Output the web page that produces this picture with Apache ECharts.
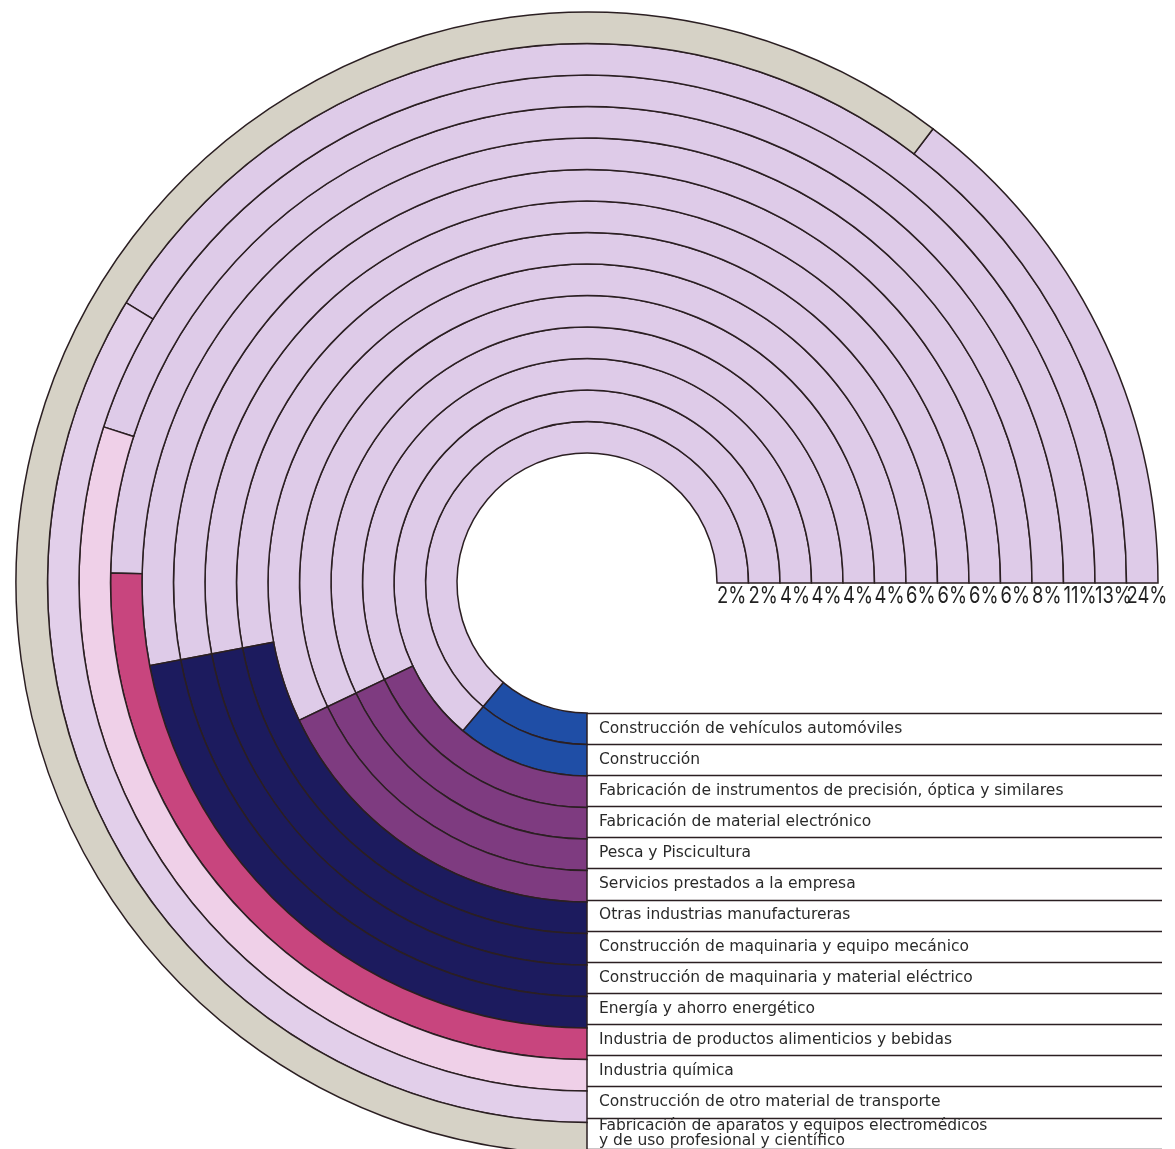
<!DOCTYPE html>
<html>
<head>
<meta charset="utf-8">
<script src="https://cdn.jsdelivr.net/npm/echarts@6/dist/echarts.min.js"></script>
<style>
html,body{margin:0;padding:0;background:#fff;}
#chart{width:1175px;height:1149px;}
</style>
</head>
<body>
<div id="chart"></div>
<script>
// Rings, innermost first
const categories = [
  'Construcción de vehículos automóviles',
  'Construcción',
  'Fabricación de instrumentos de precisión, óptica y similares',
  'Fabricación de material electrónico',
  'Pesca y Piscicultura',
  'Servicios prestados a la empresa',
  'Otras industrias manufactureras',
  'Construcción de maquinaria y equipo mecánico',
  'Construcción de maquinaria y material eléctrico',
  'Energía y ahorro energético',
  'Industria de productos alimenticios y bebidas',
  'Industria química',
  'Construcción de otro material de transporte',
  'Fabricación de aparatos y equipos electromédicos\ny de uso profesional y científico'
];
const percentLabels = ['2%','2%','4%','4%','4%','4%','6%','6%','6%','6%','8%','11%','13%','24%'];
// angle (degrees, counter-clockwise from 3 o'clock) where each ring's coloured segment begins
const highlightStartDeg = [230, 230, 205.5, 205.5, 205.5, 205.5, 190.7, 190.7, 190.7, 190.7, 178.8, 162.1, 148.7, 52.7];
const arcEndDeg = 270;
const ringColors = ['#1f4ea6','#1f4ea6','#7e3b80','#7e3b80','#7e3b80','#7e3b80',
  '#1c1b5e','#1c1b5e','#1c1b5e','#1c1b5e','#c8457e','#efd0e8','#e2cfea','#d6d2c6'];
const baseColor = '#decbe8';
const lineColor = '#2b1f22';

const highlightSpan = highlightStartDeg.map(v => arcEndDeg - v);

const chart = echarts.init(document.getElementById('chart'));
chart.setOption({
  animation: false,
  backgroundColor: '#ffffff',
  polar: { center: [587, 583], radius: [130, 571] },
  angleAxis: { type: 'value', min: 0, max: 360, startAngle: 0, clockwise: false, show: false },
  radiusAxis: { type: 'category', data: categories, show: false },
  grid: [
    { left: 587, top: 713, width: 575, height: 441 },
    { left: 717, top: 582, width: 409.5, height: 1 }
  ],
  xAxis: [
    { type: 'value', gridIndex: 0, show: false },
    { type: 'category', gridIndex: 1, data: percentLabels, boundaryGap: false, show: false }
  ],
  yAxis: [
    { type: 'category', gridIndex: 0, data: categories, inverse: true,
      axisLine: { show: false }, axisTick: { show: false },
      splitLine: { show: true, interval: 0, lineStyle: { color: lineColor, width: 1.4 } },
      axisLabel: { inside: true, interval: 0, margin: 12, fontSize: 15.5, lineHeight: 15,
        color: '#2a2a2a', fontFamily: '"DejaVu Sans",sans-serif' } },
    { type: 'value', gridIndex: 1, min: 0, max: 1, show: false }
  ],
  series: [
    { type: 'bar', coordinateSystem: 'polar', stack: 'ring', barCategoryGap: '0%',
      data: highlightStartDeg, silent: true,
      itemStyle: { color: baseColor, borderColor: lineColor, borderWidth: 1.5 } },
    { type: 'bar', coordinateSystem: 'polar', stack: 'ring', barCategoryGap: '0%',
      data: highlightSpan, silent: true,
      itemStyle: { color: p => ringColors[p.dataIndex], borderColor: lineColor, borderWidth: 1.5 } },
    { type: 'custom', xAxisIndex: 1, yAxisIndex: 1, silent: true,
      data: percentLabels.map((t, i) => [i, 0]),
      renderItem: (params, api) => {
        const pt = api.coord([api.value(0), api.value(1)]);
        return {
          type: 'text', x: pt[0], y: pt[1] + 2, scaleX: 0.8, scaleY: 1,
          style: { text: percentLabels[params.dataIndex], fontSize: 23, fontFamily: 'Inter,sans-serif',
                   fill: '#222', align: 'left', verticalAlign: 'top' }
        };
      } }
  ]
});
</script>
</body>
</html>
